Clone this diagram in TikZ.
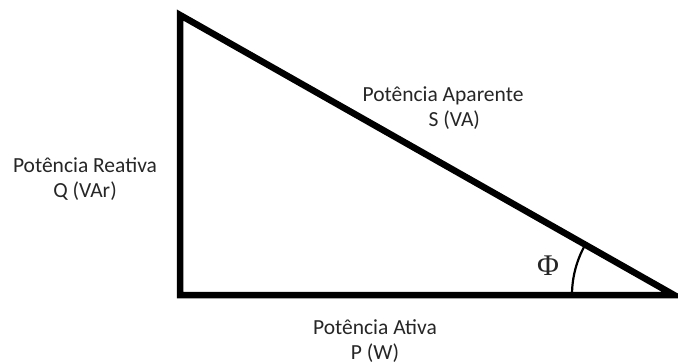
\documentclass[tikz,border=0pt]{standalone}
\usepackage{fontspec}
\setmainfont{Carlito}
\newfontfamily\phifont{Liberation Serif}
\usetikzlibrary{positioning, calc}
\tikzset{%
   side/.style={
      line width=6.5pt,
      line join=miter
   },
   ang/.style={
      line width=2.2pt
   },
   lbl/.style={
      text=black!85,
      font=\fontsize{21.5}{24.5}\selectfont,
      inner sep=0pt,
      align=center
   },
}
\begin{document}
\begin{tikzpicture}[x=1pt, y=-1pt]
\useasboundingbox (0,0) rectangle (678,364);
\coordinate (top) at (180,15);
\coordinate (orig) at (180,295);
\coordinate (tip) at (674,295);
\draw[side] (top) -- (orig) -- (tip) -- cycle;
\coordinate (arcstart) at ($(tip)+(-102,0)$);
\draw[ang] (arcstart) arc[start angle=180, end angle=150.4, radius=102pt];
\node[text=black!85, font=\phifont\fontsize{30}{32}\selectfont, inner sep=0pt] (phi) at (548,266) {Φ};
\node[lbl, align=left] (apparent) at (443,108) {Potência Aparente\\\hspace{66pt}S (VA)};
\node[lbl] (reactive) at (85,179) {Potência Reativa\\Q (VAr)};
\node[lbl] (active) at (375,341) {Potência Ativa\\P (W)};
\end{tikzpicture}
\end{document}
